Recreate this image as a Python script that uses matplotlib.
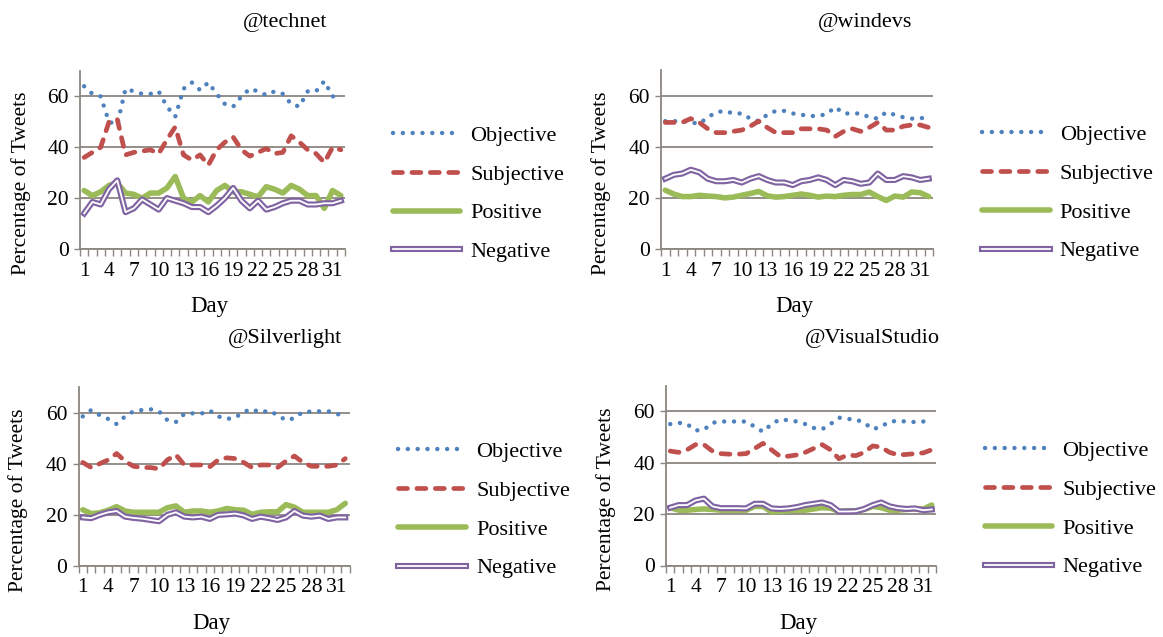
#four small panels: share of objective/subjective/positive/negative tweets per day
import numpy as np
import matplotlib.pyplot as plt
import matplotlib.patheffects as pe

plt.rcParams['font.family'] = ['Liberation Serif', 'DejaVu Serif']

#data
days = list(range(1, 33))
day_ticks = [1, 4, 7, 10, 13, 16, 19, 22, 25, 28, 31]
series_names = ['Objective', 'Subjective', 'Positive', 'Negative']
accounts = ['@technet', '@windevs', '@Silverlight', '@VisualStudio']

technet_objective = [64, 61, 60, 50, 49, 63, 62, 61, 61, 62, 56, 52, 63, 65.5, 62.5, 65.5,
                     61, 57, 56, 60, 63, 62, 60.5, 62, 61, 57, 56, 62, 62, 66, 60, 60]
technet_subjective = [36, 38, 40, 50, 51, 37, 38, 38.5, 39, 37.5, 43, 48, 37, 35, 37, 33,
                      39, 42, 44, 39, 36.5, 38, 39.5, 37.5, 38, 44.5, 42, 39, 37.5, 34, 40, 39]
technet_positive = [23, 21, 22.5, 25, 26, 22, 21.5, 20, 22, 22, 24, 28.5, 20, 18.5, 21, 18.5,
                    23, 25, 22.5, 22.5, 21.5, 20.5, 24.5, 23.5, 22, 25, 23.5, 21, 21, 16, 23, 21]
technet_negative = [14, 18.5, 17.5, 23.5, 27, 14.5, 16, 19.5, 17.5, 15.5, 20, 19, 18, 16.5, 16.5, 14.5,
                    17, 20, 24, 19, 16, 19, 15.5, 16.5, 18, 19, 19, 17.5, 17.5, 18, 18, 19]

windevs_objective = [50, 50, 50, 49.5, 49, 51.5, 53.5, 54, 53, 53, 51, 50, 52.5, 54, 54, 53,
                     52.5, 52, 52, 52.8, 55.5, 53, 53, 53, 51.5, 51, 53.5, 52.5, 51.5, 51, 51, 52]
windevs_subjective = [49.5, 49.5, 49.5, 51, 49.5, 47, 45.5, 45.5, 46, 46.5, 48, 50, 47.5, 45.5, 45.5, 45.5,
                      47, 47, 47, 46.5, 44, 46, 47, 46, 47.5, 49.5, 46.5, 46.5, 48, 48.5, 48.5, 47.5]
windevs_positive = [23, 21.5, 20.5, 20.5, 21, 20.7, 20.5, 20, 20.3, 21, 21.7, 22.5, 20.8, 20.3, 20.5, 21,
                    21.5, 21, 20.3, 20.7, 20.5, 21, 21.3, 21.3, 22.3, 20.5, 19, 20.7, 20.3, 22.3, 22, 20.5]
windevs_negative = [27.5, 29, 29.5, 31, 30, 27.5, 26.5, 26.5, 27, 26, 27.5, 28.5, 27, 26, 26, 25,
                    26.5, 27, 28, 27, 25, 27, 26.5, 25.5, 26, 29.5, 27, 27, 28.5, 28, 27, 27.5]

silverlight_objective = [58.5, 61, 59, 57.5, 55.5, 58.5, 60.5, 61, 61.3, 60.5, 57, 56.3, 59.5, 59.7, 59.6, 60.8,
                         58.5, 57.5, 58, 60.3, 61.3, 60, 60.8, 59, 57, 57.8, 60.3, 60.4, 60.5, 60.5, 59.7, 57.5]
silverlight_subjective = [40.5, 38.5, 40, 41.5, 44, 41, 39, 38.5, 38.5, 38, 41.5, 43.5, 39.5, 39.5, 39.5, 38.8,
                          41.5, 42.3, 42, 40.5, 38.5, 39.5, 39.5, 38.5, 41, 43, 40.5, 39, 39, 39, 39.5, 42]
silverlight_positive = [22, 20.5, 20.8, 21.8, 23.2, 21.5, 21, 21, 21, 21, 22.8, 23.5, 21, 21.5, 21.5, 21,
                        21.5, 22.5, 22, 21.8, 20.2, 21, 21.2, 21.2, 24, 23, 21, 21, 21, 21, 22, 24.5]
silverlight_negative = [19, 18.7, 20, 21, 21.5, 19.3, 18.8, 18.5, 18, 17.5, 20, 21, 19.3, 19, 19.3, 18.4,
                        20, 20.2, 20.5, 19.8, 18.4, 19.3, 18.7, 18, 19, 21.5, 19.7, 19.3, 19.7, 18.4, 19, 19]

visualstudio_objective = [55, 55.5, 55, 52.5, 52.8, 55.5, 56, 56, 56, 56, 54, 52, 55, 56.8, 56.5, 56,
                          55, 53.5, 53, 55, 57.5, 57, 56.8, 55.5, 53, 54, 56, 56.2, 56, 55.8, 56, 56]
visualstudio_subjective = [44.5, 44, 45, 47, 47, 44.5, 43.5, 43.3, 43.3, 43.5, 45.5, 47.5, 45, 42.5, 42.5, 43,
                           44, 45.5, 47, 45, 41.5, 43, 42.7, 44, 46.5, 46, 44, 43, 43.2, 43.5, 43.8, 45]
visualstudio_positive = [22.5, 21.5, 21.5, 21.8, 22, 21.8, 21.5, 21.5, 21.5, 21.5, 23, 23, 20.8, 21, 21.3, 21.5,
                         21.5, 22, 22.5, 22.3, 21, 21.3, 21.3, 21.8, 23, 22.5, 21.5, 21.5, 21.8, 22, 22, 23.5]
visualstudio_negative = [22.5, 23.5, 23.5, 25.3, 26, 23, 22.3, 22.3, 22.3, 22.2, 24, 24, 22.2, 22, 22.2, 22.7,
                         23.5, 24, 24.5, 23.5, 21, 21, 21.1, 22, 23.5, 24.5, 23, 22.3, 22, 22.2, 21.5, 21.8]

panel_data = [
    [technet_objective, technet_subjective, technet_positive, technet_negative],
    [windevs_objective, windevs_subjective, windevs_positive, windevs_negative],
    [silverlight_objective, silverlight_subjective, silverlight_positive, silverlight_negative],
    [visualstudio_objective, visualstudio_subjective, visualstudio_positive, visualstudio_negative],
]

#figure layout (pixel positions measured on the original)
W, H = 1163, 637
fig = plt.figure(figsize=(W / 100, H / 100), dpi=100)
boxes = [(80, 249, 265, 178), (661, 249, 272, 179), (78.5, 566, 271, 179), (666, 565.5, 270, 180)]
title_pos = [(285, 22), (865, 22), (285, 338), (872, 338)]

blue = '#4F81BD'
red = '#C0504D'
green = '#9BBB59'
purple = '#8064A2'
grid_col = '#8c8680'

for k in range(4):
    x0, y0, w, h = boxes[k]
    ax = fig.add_axes([x0 / W, 1 - y0 / H, w / W, h / H])
    obj, subj, pos, neg = panel_data[k]

    ax.plot(days, obj, color=blue, lw=3.2, linestyle=(0, (0.01, 2.2)),
            dash_capstyle='round', label=series_names[0])
    ax.plot(days, subj, color=red, lw=3.4, linestyle=(0, (1.9, 2.0)),
            dash_capstyle='round', label=series_names[1])
    ax.plot(days, pos, color=green, lw=4.0, solid_capstyle='round', label=series_names[2])
    ax.plot(days, neg, color='white', lw=1.3, label=series_names[3],
            path_effects=[pe.Stroke(linewidth=4.4, foreground=purple), pe.Normal()])

    ax.set_xlim(0.5, 32.5)
    ax.set_ylim(0, 70)
    ax.set_yticks([0, 20, 40, 60])
    ax.set_xticks(np.arange(0.5, 33, 1))
    ax.set_xticklabels([])
    ax.set_xticks(day_ticks, minor=True)
    ax.set_xticklabels([str(d) for d in day_ticks], minor=True)
    ax.tick_params(axis='x', which='major', length=5, color=grid_col, width=1, direction='out')
    ax.tick_params(axis='x', which='minor', length=0, pad=9, labelsize=15.5)
    ax.tick_params(axis='y', length=4, color=grid_col, width=1, labelsize=15.5, pad=4)
    ax.grid(axis='y', color=grid_col, lw=1.3)
    ax.set_axisbelow(True)
    for side in ['top', 'right']:
        ax.spines[side].set_visible(False)
    for side in ['left', 'bottom']:
        ax.spines[side].set_color(grid_col)
        ax.spines[side].set_linewidth(1.3)

    ax.set_ylabel('Percentage of Tweets', fontsize=15.5)
    ax.yaxis.set_label_coords(-0.185, 0.37)
    ax.set_xlabel('Day', fontsize=16.5)
    ax.xaxis.set_label_coords(0.49, -0.265)

    ax.legend(loc='upper left', bbox_to_anchor=(1.18, 0.695), frameon=False, fontsize=16,
              handlelength=3.05, handletextpad=0.45, labelspacing=0.82, borderpad=0, borderaxespad=0)

    tx, ty = title_pos[k]
    fig.text(tx / W, 1 - ty / H, accounts[k], fontsize=16, ha='center', va='center')

fig.savefig('out.png', dpi=100)
